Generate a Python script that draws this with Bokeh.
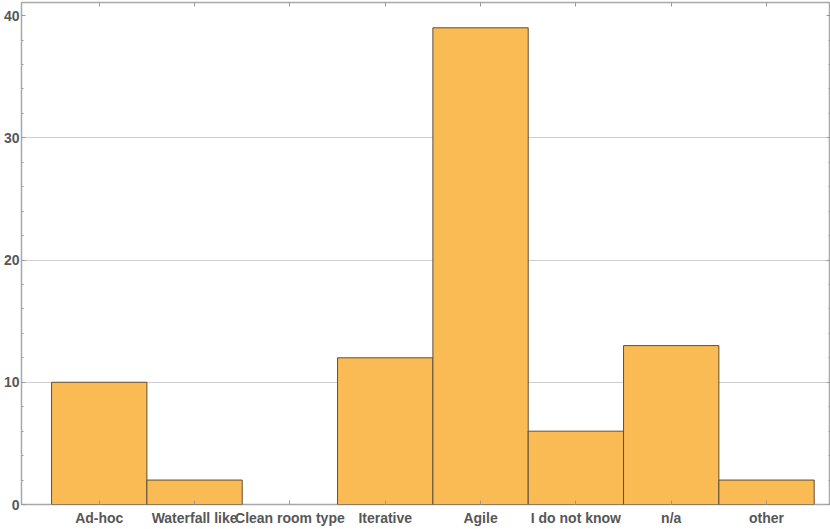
from bokeh.plotting import figure
from bokeh.models import Range1d, FixedTicker, LinearAxis, ColumnDataSource
from bokeh.embed import file_html
from bokeh.resources import INLINE

categories = ["Ad-hoc", "Waterfall like", "Clean room type", "Iterative",
              "Agile", "I do not know", "n/a", "other"]
counts = [10, 2, 0, 12, 39, 6, 13, 2]
y_ticks = [0, 10, 20, 30, 40]
y_minor = list(range(0, 42, 2))
grid_ticks = [10, 20, 30]

xs = list(range(len(categories)))

FONT = "Liberation Sans"
TXT = "#575757"
TICK = "#9a9a9a"
EDGE = "#5e4f38"

p = figure(width=830, height=529, output_backend="svg", toolbar_location=None,
           x_range=Range1d(-0.8155, 7.671), y_range=Range1d(0, 41.07),
           min_border_left=0, min_border_right=0, min_border_top=2,
           min_border_bottom=25)

src = ColumnDataSource(dict(
    x=xs, top=counts,
    edge=[EDGE if c > 0 else None for c in counts],
))
p.vbar(x="x", top="top", bottom=0, width=1.0, source=src,
       fill_color="#FABB55", line_color="edge", line_width=1)

p.outline_line_color = "#a8a8a8"
p.outline_line_width = 1.5
p.background_fill_color = "white"
p.border_fill_color = "white"

p.xgrid.visible = False
p.ygrid.ticker = FixedTicker(ticks=grid_ticks)
p.ygrid.grid_line_color = "#cfcfcf"
p.ygrid.grid_line_width = 1

def style_axis(ax, ticks, labels=True):
    ax.axis_line_color = None
    ax.major_tick_in = 4
    ax.major_tick_out = 0
    ax.minor_tick_in = 2
    ax.minor_tick_out = 0
    ax.major_tick_line_color = TICK
    ax.minor_tick_line_color = TICK
    if labels:
        ax.major_label_text_font = FONT
        ax.major_label_text_font_size = "14px"
        ax.major_label_text_font_style = "bold"
        ax.major_label_text_color = TXT
    else:
        ax.major_label_overrides = {t: "" for t in ticks}
        ax.major_label_text_font_size = "1px"
        ax.major_label_standoff = 0

xa = p.xaxis[0]
xa.ticker = FixedTicker(ticks=xs)
xa.major_label_overrides = {i: c for i, c in zip(xs, categories)}
style_axis(xa, xs)
xa.major_label_standoff = 5

ya = p.yaxis[0]
ya.ticker = FixedTicker(ticks=y_ticks, minor_ticks=y_minor)
style_axis(ya, y_ticks)
ya.major_label_standoff = 2

top_axis = LinearAxis(ticker=FixedTicker(ticks=xs))
style_axis(top_axis, xs, labels=False)
p.add_layout(top_axis, "above")

right_axis = LinearAxis(ticker=FixedTicker(ticks=y_ticks, minor_ticks=y_minor))
style_axis(right_axis, y_ticks, labels=False)
p.add_layout(right_axis, "right")

open("out.html", "w").write(file_html(p, INLINE))
